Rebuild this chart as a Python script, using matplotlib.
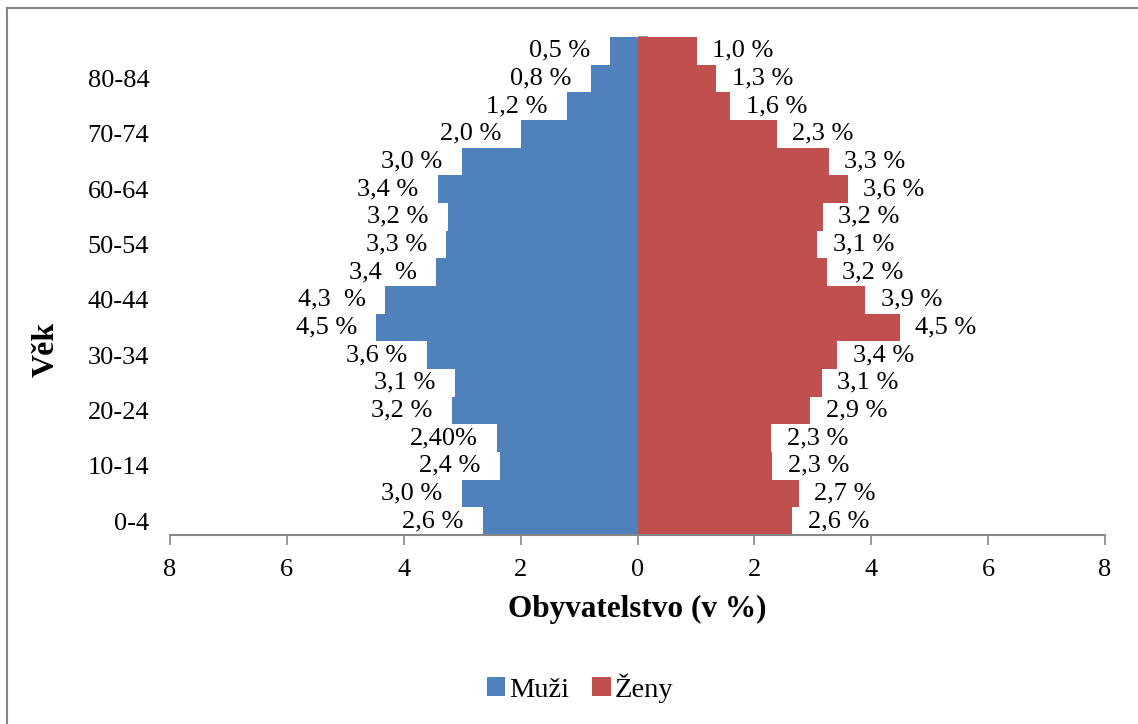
import numpy as np
import matplotlib.pyplot as plt
from matplotlib.lines import Line2D

plt.rcParams['font.family'] = ['Liberation Serif', 'DejaVu Serif']

# Věkové skupiny (zdola nahoru)
vek = ['0-4', '5-9', '10-14', '15-19', '20-24', '25-29', '30-34', '35-39', '40-44',
       '45-49', '50-54', '55-59', '60-64', '65-69', '70-74', '75-79', '80-84', '85+']

muzi = [2.64, 3.00, 2.36, 2.40, 3.17, 3.12, 3.60, 4.47, 4.32,
        3.44, 3.27, 3.24, 3.42, 3.00, 1.99, 1.20, 0.80, 0.47]
zeny = [2.65, 2.76, 2.31, 2.29, 2.96, 3.15, 3.42, 4.49, 3.90,
        3.24, 3.08, 3.17, 3.60, 3.27, 2.38, 1.59, 1.35, 1.01]

muzi_popisky = ['2,6 %', '3,0 %', '2,4 %', '2,40%', '3,2 %', '3,1 %', '3,6 %', '4,5 %', '4,3  %',
                '3,4  %', '3,3 %', '3,2 %', '3,4 %', '3,0 %', '2,0 %', '1,2 %', '0,8 %', '0,5 %']
zeny_popisky = ['2,6 %', '2,7 %', '2,3 %', '2,3 %', '2,9 %', '3,1 %', '3,4 %', '4,5 %', '3,9 %',
                '3,2 %', '3,1 %', '3,2 %', '3,6 %', '3,3 %', '2,3 %', '1,6 %', '1,3 %', '1,0 %']

x_ticks = [-8, -6, -4, -2, 0, 2, 4, 6, 8]

modra = '#4F81BD'
cervena = '#C0504D'
seda = '#868686'
fs = 19

fig = plt.figure(figsize=(11.38, 7.24), dpi=100)
ax = fig.add_axes([170 / 1138, 1 - 535 / 724, (1105 - 170) / 1138, (535 - 37) / 724])

y = np.arange(len(vek))
ax.barh(y, -np.array(muzi), height=1.0, color=modra, label='Muži', zorder=2)
ax.barh(y, zeny, height=1.0, color=cervena, label='Ženy', zorder=2)

# popisky hodnot
box = dict(facecolor='white', edgecolor='none', pad=1.0)
for i in range(len(vek)):
    ax.annotate(muzi_popisky[i], (-muzi[i], y[i]), xytext=(-14, 0), textcoords='offset points',
                ha='right', va='center', fontsize=fs, bbox=box, zorder=3)
    ax.annotate(zeny_popisky[i], (zeny[i], y[i]), xytext=(11, 0), textcoords='offset points',
                ha='left', va='center', fontsize=fs, bbox=box, zorder=3)

ax.set_xlim(-8, 8)
ax.set_ylim(-0.5, len(vek) - 0.5)
ax.set_xticks(x_ticks)
ax.set_xticklabels([str(abs(t)) for t in x_ticks], fontsize=fs)
ax.tick_params(axis='x', direction='out', length=7, width=1.2, color=seda, pad=10)

ax.set_yticks(y[::2])
ax.set_yticklabels(vek[::2], fontsize=fs)
ax.tick_params(axis='y', length=0, pad=15)

for s in ['top', 'right', 'left']:
    ax.spines[s].set_visible(False)
ax.spines['bottom'].set_color(seda)
ax.spines['bottom'].set_linewidth(1.5)

# svislá osa uprostřed (x = 0) s tiky na hranicích skupin
sec = ax.secondary_yaxis(0.5)
sec.set_yticks(np.arange(-0.5, len(vek), 1.0))
sec.set_yticklabels([])
sec.tick_params(direction='out', length=7, width=1.2, color=seda)
sec.spines['left'].set_color(seda)
sec.spines['left'].set_linewidth(1.5)

ax.set_xlabel('Obyvatelstvo (v %)', fontsize=22.5, fontweight='bold', labelpad=10)
ax.set_ylabel('Věk', fontsize=23, fontweight='bold')
ax.yaxis.set_label_coords(-0.117, 0.373)

ax.legend(loc='center', bbox_to_anchor=(580 / 1138, 1 - 688 / 724), bbox_transform=fig.transFigure,
          ncol=2, frameon=False, fontsize=20.5, handlelength=0.65, handleheight=0.65,
          handletextpad=0.15, columnspacing=0.8)

# rámeček grafu (vlevo a nahoře)
fig.add_artist(Line2D([7 / 1138, 7 / 1138], [0, 1 - 8 / 724], transform=fig.transFigure, color=seda, lw=1.5))
fig.add_artist(Line2D([7 / 1138, 1], [1 - 8 / 724, 1 - 8 / 724], transform=fig.transFigure, color=seda, lw=1.5))

fig.savefig('out.png', dpi=100)
